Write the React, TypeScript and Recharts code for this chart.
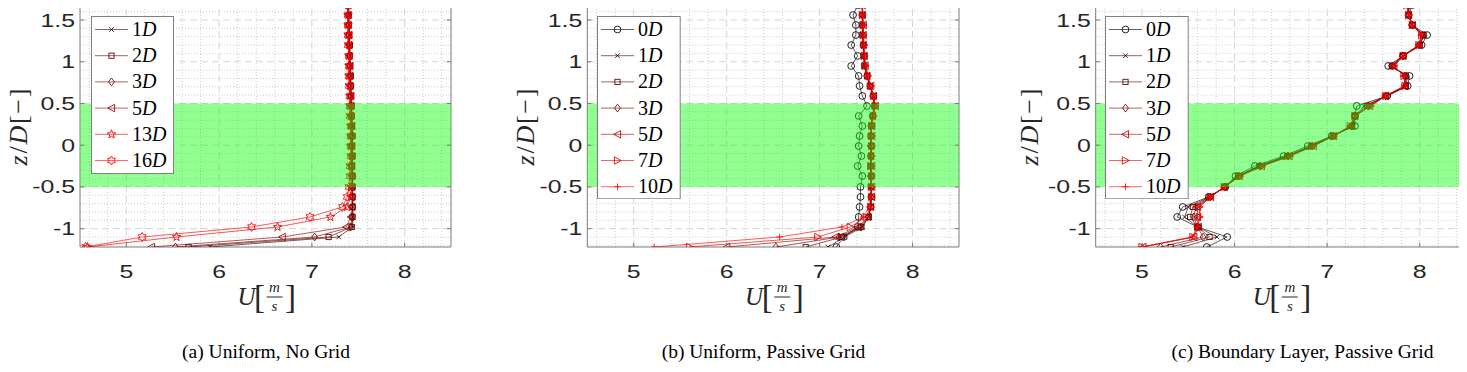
import React from 'react';
import { ScatterChart, Scatter, XAxis, YAxis, ReferenceArea, ReferenceLine, Legend, Label } from 'recharts';

// ---------- data ----------
const zLevels = [-1.22, -1.10, -0.98, -0.86, -0.74, -0.62, -0.50, -0.37, -0.25, -0.13, -0.01, 0.11, 0.23, 0.35, 0.47, 0.59, 0.71, 0.83, 0.95, 1.07, 1.20, 1.32, 1.44, 1.56, 1.68];

const xTicks = [5, 6, 7, 8];
const yTicks = [-1, -0.5, 0, 0.5, 1, 1.5];
const xMinor = [4.6, 4.8, 5.2, 5.4, 5.6, 5.8, 6.2, 6.4, 6.6, 6.8, 7.2, 7.4, 7.6, 7.8, 8.2, 8.4];
const yMinor = [-1.2, -1.1, -0.9, -0.8, -0.7, -0.6, -0.4, -0.3, -0.2, -0.1, 0.1, 0.2, 0.3, 0.4, 0.6, 0.7, 0.8, 0.9, 1.1, 1.2, 1.3, 1.4, 1.6];
const xDomain = [4.5, 8.5];
const yDomain = [-1.22, 1.68];
const bandRange = [-0.5, 0.5];

// (a) Uniform, No Grid
const aLabels = ['1', '2', '3', '5', '13', '16'];
const aMarkers = ['x', 's', 'd', '<', 'p', 'h'];
const a1D = [5.90, 7.29, 7.44, 7.44, 7.44, 7.44, 7.44, 7.44, 7.44, 7.44, 7.44, 7.44, 7.44, 7.43, 7.43, 7.43, 7.42, 7.42, 7.42, 7.41, 7.41, 7.41, 7.40, 7.40, 7.40];
const a2D = [5.67, 7.18, 7.43, 7.44, 7.44, 7.44, 7.44, 7.44, 7.43, 7.44, 7.43, 7.44, 7.43, 7.43, 7.43, 7.42, 7.42, 7.42, 7.41, 7.41, 7.41, 7.40, 7.40, 7.40, 7.39];
const a3D = [5.53, 7.03, 7.42, 7.43, 7.44, 7.44, 7.43, 7.44, 7.43, 7.43, 7.43, 7.43, 7.43, 7.43, 7.42, 7.42, 7.42, 7.41, 7.41, 7.41, 7.40, 7.40, 7.40, 7.39, 7.39];
const a5D = [5.27, 6.68, 7.37, 7.42, 7.43, 7.43, 7.43, 7.43, 7.43, 7.43, 7.43, 7.42, 7.43, 7.42, 7.42, 7.42, 7.41, 7.41, 7.41, 7.40, 7.40, 7.40, 7.39, 7.39, 7.39];
const a13D = [4.58, 5.54, 6.63, 7.20, 7.38, 7.42, 7.42, 7.43, 7.42, 7.43, 7.42, 7.42, 7.42, 7.42, 7.41, 7.41, 7.41, 7.40, 7.40, 7.40, 7.40, 7.39, 7.39, 7.39, 7.39];
const a16D = [4.56, 5.17, 6.35, 6.98, 7.33, 7.38, 7.40, 7.41, 7.41, 7.42, 7.42, 7.42, 7.42, 7.41, 7.41, 7.41, 7.40, 7.40, 7.40, 7.40, 7.39, 7.39, 7.39, 7.39, 7.38];

// (b) Uniform, Passive Grid
const bLabels = ['0', '1', '2', '3', '5', '7', '10'];
const bMarkers = ['o', 'x', 's', 'd', '<', '>', '+'];
const b0D = [7.18, 7.26, 7.41, 7.42, 7.43, 7.44, 7.44, 7.46, 7.41, 7.45, 7.42, 7.43, 7.46, 7.42, 7.51, 7.46, 7.43, 7.42, 7.34, 7.41, 7.34, 7.39, 7.39, 7.36, 7.41];
const b1D = [7.09, 7.27, 7.46, 7.53, 7.55, 7.55, 7.55, 7.55, 7.55, 7.55, 7.55, 7.55, 7.56, 7.57, 7.59, 7.58, 7.54, 7.51, 7.48, 7.47, 7.47, 7.46, 7.46, 7.46, 7.46];
const b2D = [6.85, 7.24, 7.45, 7.53, 7.55, 7.56, 7.55, 7.56, 7.55, 7.55, 7.56, 7.55, 7.56, 7.57, 7.59, 7.58, 7.54, 7.51, 7.48, 7.48, 7.47, 7.46, 7.46, 7.46, 7.46];
const b3D = [6.53, 7.21, 7.44, 7.52, 7.55, 7.55, 7.56, 7.55, 7.55, 7.56, 7.55, 7.55, 7.55, 7.57, 7.59, 7.57, 7.54, 7.51, 7.49, 7.48, 7.47, 7.47, 7.46, 7.46, 7.46];
const b5D = [6.00, 7.17, 7.42, 7.52, 7.55, 7.56, 7.56, 7.55, 7.56, 7.55, 7.55, 7.56, 7.56, 7.57, 7.60, 7.58, 7.55, 7.51, 7.49, 7.48, 7.47, 7.47, 7.47, 7.46, 7.46];
const b7D = [5.60, 6.98, 7.33, 7.50, 7.55, 7.56, 7.56, 7.56, 7.55, 7.56, 7.56, 7.56, 7.56, 7.58, 7.60, 7.58, 7.55, 7.52, 7.49, 7.48, 7.48, 7.47, 7.47, 7.46, 7.46];
const b10D = [5.22, 6.57, 7.24, 7.47, 7.53, 7.55, 7.56, 7.56, 7.56, 7.56, 7.56, 7.55, 7.56, 7.58, 7.60, 7.58, 7.55, 7.52, 7.50, 7.49, 7.48, 7.47, 7.47, 7.47, 7.46];

// (c) Boundary Layer, Passive Grid
const cLabels = ['0', '1', '2', '3', '5', '7', '10'];
const cMarkers = ['o', 'x', 's', 'd', '<', '>', '+'];
const c0D = [5.70, 5.92, 5.60, 5.38, 5.44, 5.72, 5.90, 6.01, 6.22, 6.53, 6.79, 7.05, 7.30, 7.30, 7.32, 7.65, 7.87, 7.89, 7.66, 7.82, 8.02, 8.08, 7.92, 7.88, 7.92];
const c1D = [5.44, 5.81, 5.60, 5.46, 5.50, 5.73, 5.90, 6.03, 6.26, 6.56, 6.82, 7.06, 7.28, 7.30, 7.40, 7.64, 7.86, 7.86, 7.69, 7.82, 8.00, 8.05, 7.92, 7.88, 7.89];
const c2D = [5.31, 5.73, 5.60, 5.52, 5.55, 5.73, 5.89, 6.04, 6.27, 6.57, 6.83, 7.06, 7.27, 7.30, 7.43, 7.64, 7.85, 7.85, 7.70, 7.82, 8.00, 8.04, 7.92, 7.88, 7.88];
const c3D = [5.20, 5.66, 5.60, 5.56, 5.58, 5.74, 5.89, 6.05, 6.28, 6.58, 6.84, 7.07, 7.26, 7.30, 7.45, 7.63, 7.85, 7.84, 7.71, 7.82, 7.99, 8.03, 7.92, 7.88, 7.87];
const c5D = [5.01, 5.56, 5.61, 5.60, 5.60, 5.74, 5.89, 6.05, 6.29, 6.59, 6.85, 7.07, 7.25, 7.30, 7.46, 7.63, 7.84, 7.83, 7.72, 7.82, 7.99, 8.02, 7.92, 7.88, 7.86];
const c7D = [5.00, 5.55, 5.60, 5.62, 5.62, 5.74, 5.89, 6.06, 6.30, 6.60, 6.85, 7.07, 7.25, 7.30, 7.47, 7.63, 7.84, 7.83, 7.72, 7.82, 7.99, 8.02, 7.92, 7.88, 7.86];
const c10D = [5.00, 5.54, 5.60, 5.63, 5.62, 5.74, 5.89, 6.06, 6.30, 6.60, 6.85, 7.07, 7.25, 7.30, 7.47, 7.63, 7.84, 7.83, 7.72, 7.82, 7.99, 8.02, 7.92, 7.88, 7.86];

const captions = ['(a) Uniform, No Grid', '(b) Uniform, Passive Grid', '(c) Boundary Layer, Passive Grid'];

// ---------- styles ----------
const aColors = ['#3c0000', '#550000', '#700000', '#9a0000', '#e00000', '#ff0000'];
const bcColors = ['#000000', '#3a0000', '#550000', '#700000', '#a00000', '#e00000', '#ff0000'];
const AXIS = '#7a7a7a';
const TEXT = '#262626';
const MAJOR = '#d6d6d6';
const MINOR = '#cdcdcd';
const SANS = 'Liberation Sans, Arial, Helvetica, sans-serif';
const SERIF = 'Liberation Serif, Times New Roman, serif';
const TICK_STRETCH = 1.38;

type Series = { label: string; marker: string; color: string; values: number[] };

const build = (labels: string[], markers: string[], colors: string[], values: number[][]): Series[] =>
  labels.map((l, i) => ({ label: l, marker: markers[i], color: colors[i], values: values[i] }));

const aSeries = build(aLabels, aMarkers, aColors, [a1D, a2D, a3D, a5D, a13D, a16D]);
const bSeries = build(bLabels, bMarkers, bcColors, [b0D, b1D, b2D, b3D, b5D, b7D, b10D]);
const cSeries = build(cLabels, cMarkers, bcColors, [c0D, c1D, c2D, c3D, c5D, c7D, c10D]);

const starPath = (n: number, ro: number, ri: number, cx: number, cy: number) => {
  let d = '';
  for (let i = 0; i < 2 * n; i++) {
    const r = i % 2 === 0 ? ro : ri;
    const a = -Math.PI / 2 + (i * Math.PI) / n;
    d += (i === 0 ? 'M' : 'L') + (cx + r * Math.cos(a)).toFixed(2) + ',' + (cy + r * Math.sin(a)).toFixed(2);
  }
  return d + 'Z';
};

const Marker = ({ m, cx, cy, color }: { m: string; cx: number; cy: number; color: string }) => {
  if (cx == null || cy == null || isNaN(cx) || isNaN(cy)) return null;
  const common = { stroke: color, strokeWidth: 0.9, fill: 'none', strokeOpacity: 0.95 } as any;
  switch (m) {
    case 'o':
      return <circle cx={cx} cy={cy} r={3.4} {...common} />;
    case 'x':
      return <path d={`M${cx - 2.3},${cy - 2.3}L${cx + 2.3},${cy + 2.3}M${cx - 2.3},${cy + 2.3}L${cx + 2.3},${cy - 2.3}`} {...common} />;
    case '+':
      return <path d={`M${cx - 3.2},${cy}L${cx + 3.2},${cy}M${cx},${cy - 3.2}L${cx},${cy + 3.2}`} {...common} />;
    case 's':
      return <rect x={cx - 2.6} y={cy - 2.6} width={5.2} height={5.2} {...common} />;
    case 'd':
      return <path d={`M${cx},${cy - 3.9}L${cx + 2.9},${cy}L${cx},${cy + 3.9}L${cx - 2.9},${cy}Z`} {...common} />;
    case '<':
      return <path d={`M${cx - 3.7},${cy}L${cx + 3.1},${cy - 3.7}L${cx + 3.1},${cy + 3.7}Z`} {...common} />;
    case '>':
      return <path d={`M${cx + 3.7},${cy}L${cx - 3.1},${cy - 3.7}L${cx - 3.1},${cy + 3.7}Z`} {...common} />;
    case 'p':
      return <path d={starPath(5, 4.5, 1.9, cx, cy)} {...common} />;
    case 'h':
      return <path d={starPath(6, 4.5, 2.6, cx, cy)} {...common} />;
    default:
      return null;
  }
};

// ---------- axis ticks & labels ----------
const TickText = ({ x, y, anchor, value }: { x: number; y: number; anchor: string; value: number }) => (
  <g transform={`translate(${x} ${y}) scale(${TICK_STRETCH} 1)`}>
    <text x={0} y={0} textAnchor={anchor as any} fontSize={18} fontFamily={SANS} fill={TEXT}>
      {String(value)}
    </text>
  </g>
);

const BottomTick = (p: any) => (
  <g>
    <line x1={p.x} x2={p.x} y1={p.y} y2={p.y - 4} stroke={AXIS} />
    <TickText x={p.x} y={p.y + 31} anchor="middle" value={p.payload.value} />
  </g>
);
const TopTick = (p: any) => <line x1={p.x} x2={p.x} y1={p.y} y2={p.y + 4} stroke={AXIS} />;
const LeftTick = (p: any) => (
  <g>
    <line x1={p.x} x2={p.x + 4} y1={p.y} y2={p.y} stroke={AXIS} />
    <TickText x={p.x - 5} y={p.y + 6.5} anchor="end" value={p.payload.value} />
  </g>
);
const RightTick = (p: any) => <line x1={p.x} x2={p.x - 4} y1={p.y} y2={p.y} stroke={AXIS} />;

const XLabel = (props: any) => {
  const vb = props.viewBox || { x: 0, y: 0, width: 0 };
  const cx = vb.x + vb.width / 2 + 3;
  const t = vb.y;
  return (
    <g fill={TEXT} fontFamily={SERIF}>
      <text x={cx - 22} y={t + 58} fontSize={25} fontStyle="italic" textAnchor="middle">U</text>
      <text x={cx - 9} y={t + 61} fontSize={33} textAnchor="middle">[</text>
      <text x={cx + 6} y={t + 45} fontSize={15} fontStyle="italic" textAnchor="middle">m</text>
      <line x1={cx - 2} x2={cx + 14} y1={t + 50} y2={t + 50} stroke={TEXT} strokeWidth={1} />
      <text x={cx + 6} y={t + 64} fontSize={15} fontStyle="italic" textAnchor="middle">s</text>
      <text x={cx + 22} y={t + 61} fontSize={33} textAnchor="middle">]</text>
    </g>
  );
};

const makeYLabel = (off: number) => (props: any) => {
  const vb = props.viewBox || { x: 0, y: 0, width: 0, height: 0 };
  const x = vb.x + vb.width - off;
  const cy = vb.y + vb.height / 2 + 1;
  return (
    <text
      transform={`rotate(-90 ${x} ${cy})`}
      x={x}
      y={cy}
      textAnchor="middle"
      dominantBaseline="central"
      fontSize={26}
      fontFamily={SERIF}
      fill={TEXT}
      textLength={77}
      lengthAdjust="spacing"
    >
      <tspan fontStyle="italic">z</tspan>
      <tspan>/</tspan>
      <tspan fontStyle="italic">D</tspan>
      <tspan>[−]</tspan>
    </text>
  );
};

const LegendBox = ({ series, width, height }: { series: Series[]; width: number; height: number }) => (
  <svg width={width} height={height} style={{ display: 'block' }}>
    <rect x={0.5} y={0.5} width={width - 1} height={height - 1} fill="#ffffff" stroke="#808080" />
    {series.map((s, i) => {
      const cy = 13.5 + 26.2 * i;
      return (
        <g key={s.label}>
          <line x1={4} x2={37} y1={cy} y2={cy} stroke={s.color} strokeOpacity={0.6} />
          <Marker m={s.marker} cx={20.5} cy={cy} color={s.color} />
          <text x={41} y={cy + 6.5} fontFamily={SERIF} fontSize={20} fill="#000">
            {s.label}
            <tspan fontStyle="italic">D</tspan>
          </text>
        </g>
      );
    })}
  </svg>
);

type PanelCfg = {
  left: number;
  width: number;
  yAxisWidth: number;
  marginRight: number;
  legend: { left: number; top: number; width: number; height: number };
  yLabelOffset: number;
  series: Series[];
};

const Panel = ({ cfg }: { cfg: PanelCfg }) => (
  <div style={{ position: 'absolute', left: cfg.left, top: 0 }}>
    <ScatterChart width={cfg.width} height={372} margin={{ top: 4, right: cfg.marginRight, bottom: 65, left: 0 }}>
      {xMinor.map((v) => (
        <ReferenceLine key={'xm' + v} x={v} stroke={MINOR} strokeDasharray="1 2" strokeWidth={1} zIndex={-100} />
      ))}
      {yMinor.map((v) => (
        <ReferenceLine key={'ym' + v} y={v} stroke={MINOR} strokeDasharray="1 2" strokeWidth={1} zIndex={-100} />
      ))}
      {xTicks.map((v) => (
        <ReferenceLine key={'xM' + v} x={v} stroke={MAJOR} strokeDasharray="7 4" strokeWidth={1} zIndex={-90} />
      ))}
      {yTicks.map((v) => (
        <ReferenceLine key={'yM' + v} y={v} stroke={MAJOR} strokeDasharray="7 4" strokeWidth={1} zIndex={-90} />
      ))}
      <XAxis
        type="number"
        dataKey="u"
        domain={xDomain}
        ticks={xTicks}
        allowDataOverflow
        interval={0}
        tickSize={0}
        tickMargin={0}
        tickLine={false}
        tick={BottomTick}
        height={60}
        axisLine={{ stroke: AXIS }}
      >
        <Label content={XLabel} />
      </XAxis>
      <XAxis
        xAxisId="top"
        orientation="top"
        type="number"
        domain={xDomain}
        ticks={xTicks}
        allowDataOverflow
        interval={0}
        tickSize={0}
        tickMargin={0}
        tickLine={false}
        tick={TopTick}
        height={1}
        axisLine={{ stroke: AXIS }}
      />
      <YAxis
        type="number"
        dataKey="z"
        domain={yDomain}
        ticks={yTicks}
        allowDataOverflow
        interval={0}
        tickSize={0}
        tickMargin={0}
        tickLine={false}
        tick={LeftTick}
        width={cfg.yAxisWidth}
        axisLine={{ stroke: AXIS }}
      >
        <Label content={makeYLabel(cfg.yLabelOffset)} />
      </YAxis>
      <YAxis
        yAxisId="right"
        orientation="right"
        type="number"
        domain={yDomain}
        ticks={yTicks}
        allowDataOverflow
        interval={0}
        tickSize={0}
        tickMargin={0}
        tickLine={false}
        tick={RightTick}
        width={1}
        axisLine={{ stroke: AXIS }}
      />
      {cfg.series.map((s) => (
        <Scatter
          key={s.label}
          name={s.label + 'D'}
          data={zLevels.map((z, i) => ({ u: s.values[i], z }))}
          line={{ stroke: s.color, strokeWidth: 1, strokeOpacity: 0.65 }}
          lineJointType="linear"
          shape={(p: any) => <Marker m={s.marker} cx={p.cx} cy={p.cy} color={s.color} />}
          isAnimationActive={false}
        />
      ))}
      <ReferenceArea y1={bandRange[0]} y2={bandRange[1]} fill="#00ff00" fillOpacity={0.43} stroke="none" zIndex={700} />
      <Legend
        layout="vertical"
        align="center"
        verticalAlign="middle"
        wrapperStyle={{ left: cfg.legend.left, top: cfg.legend.top, width: cfg.legend.width, height: cfg.legend.height }}
        content={() => <LegendBox series={cfg.series} width={cfg.legend.width} height={cfg.legend.height} />}
      />
    </ScatterChart>
  </div>
);

const panels: PanelCfg[] = [
  { left: 0, width: 460, yAxisWidth: 80, marginRight: 8, legend: { left: 90.7, top: 15.7, width: 83, height: 158 }, yLabelOffset: 62.5, series: aSeries },
  { left: 500, width: 470, yAxisWidth: 87.3, marginRight: 10, legend: { left: 97.3, top: 15.7, width: 83.7, height: 183.3 }, yLabelOffset: 62.3, series: bSeries },
  { left: 1010, width: 457, yAxisWidth: 85.7, marginRight: 0, legend: { left: 95.3, top: 15.7, width: 83.7, height: 183.3 }, yLabelOffset: 66.7, series: cSeries },
];
const captionCenters = [266, 763.5, 1302.5];

export default function App() {
  return (
    <div style={{ position: 'relative', left: -8, top: -8, width: 1467, height: 372, background: '#fff', overflow: 'hidden' }}>
      {panels.map((p, i) => (
        <Panel key={i} cfg={p} />
      ))}
      <svg width={1467} height={372} style={{ position: 'absolute', left: 0, top: 0, pointerEvents: 'none' }}>
        {captions.map((c, i) => (
          <text key={c} x={captionCenters[i]} y={358} textAnchor="middle" fontFamily={SERIF} fontSize={19.5} fill="#000">
            {c}
          </text>
        ))}
      </svg>
    </div>
  );
}
